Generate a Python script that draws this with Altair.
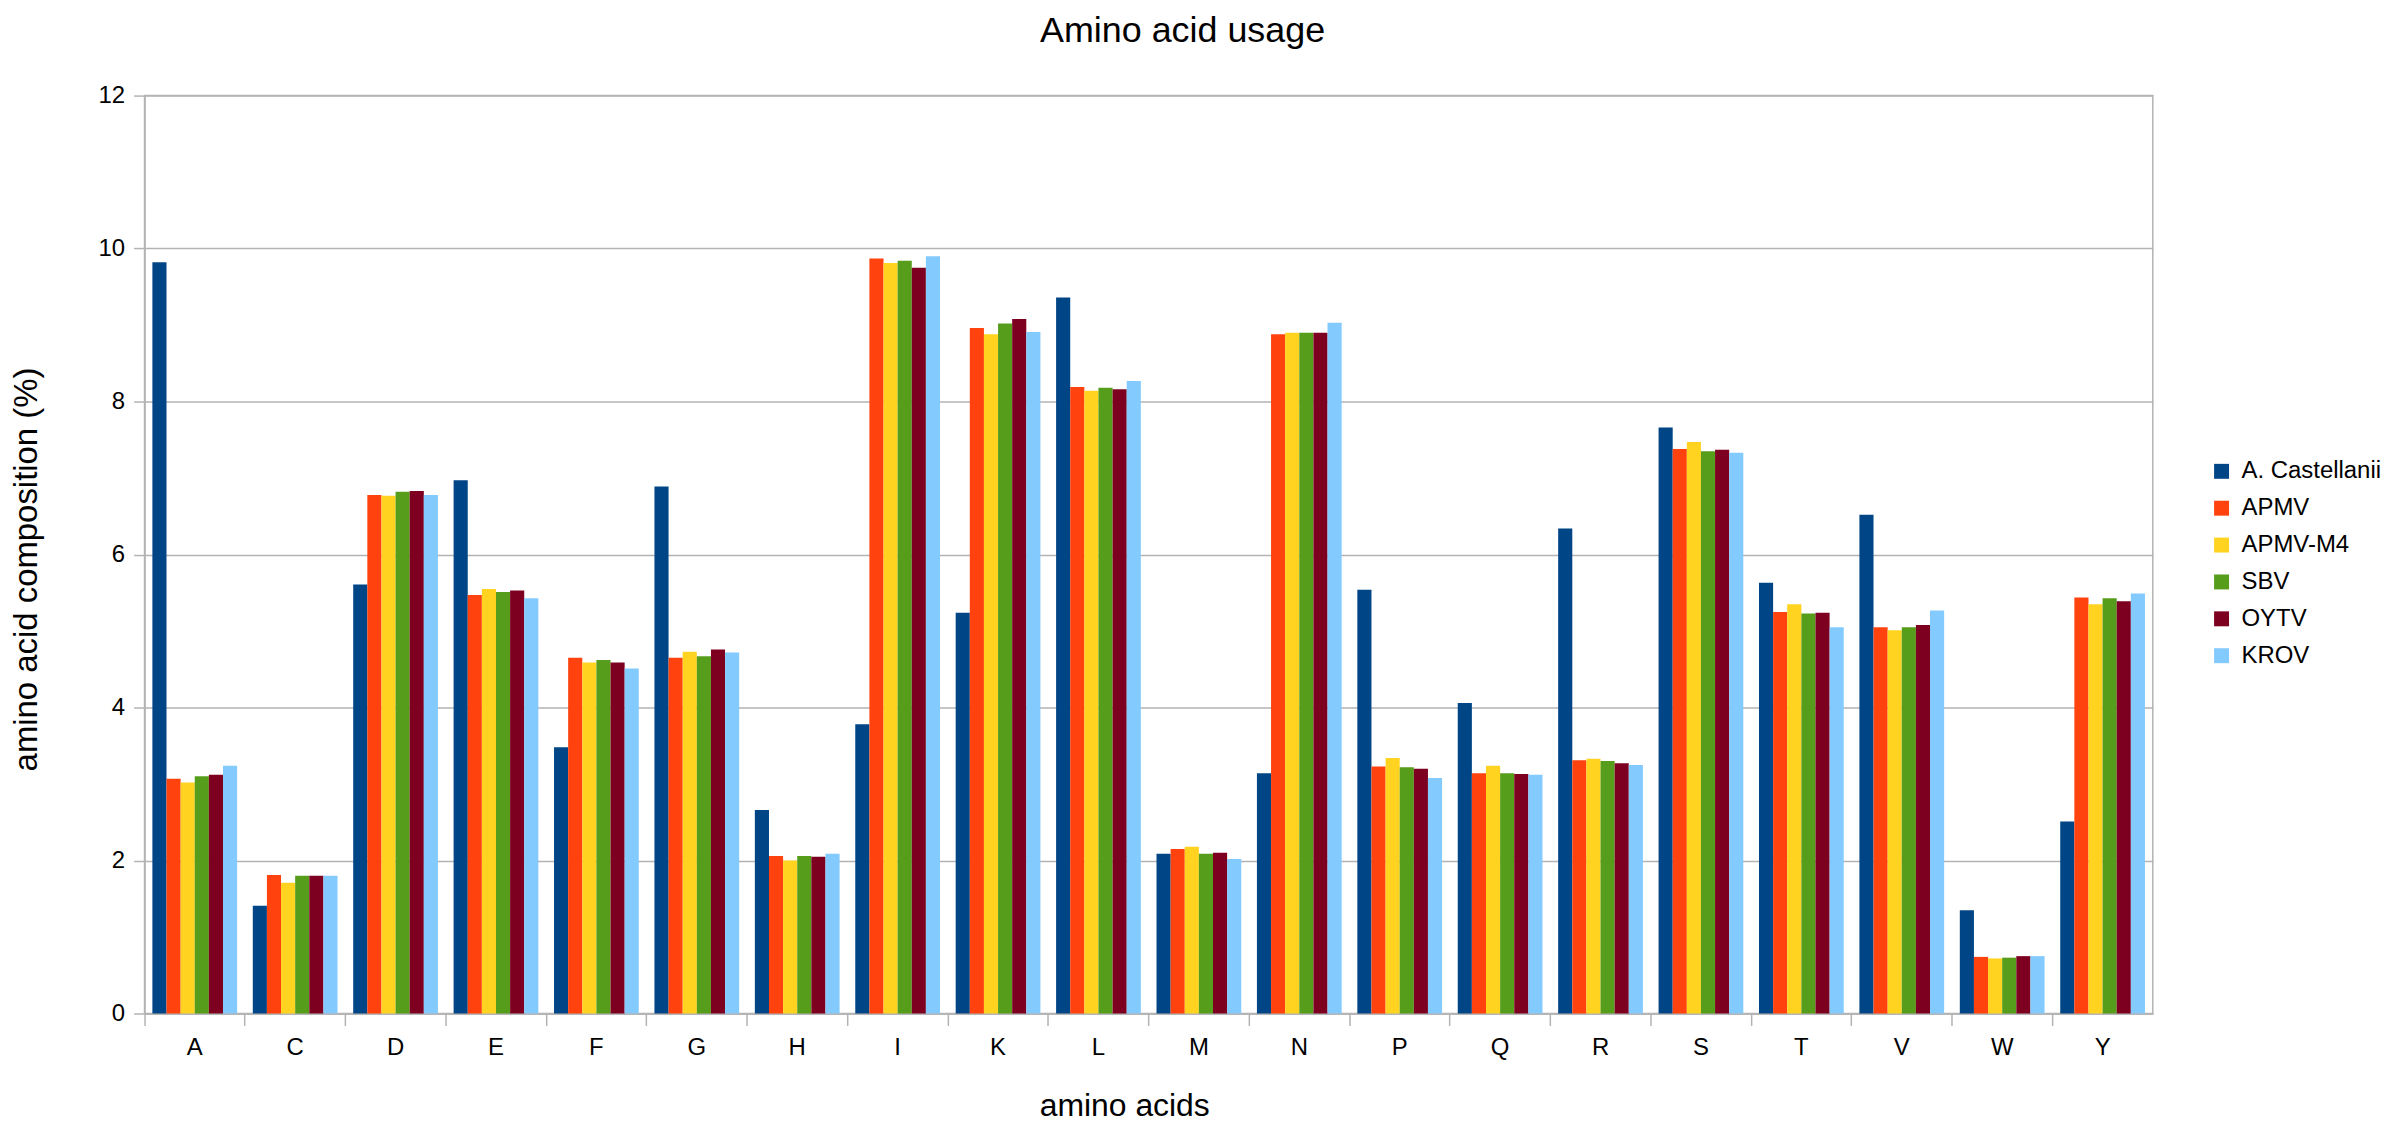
import altair as alt
import pandas as pd

aa = ["A", "C", "D", "E", "F", "G", "H", "I", "K", "L",
      "M", "N", "P", "Q", "R", "S", "T", "V", "W", "Y"]
series_names = ["A. Castellanii", "APMV", "APMV-M4", "SBV", "OYTV", "KROV"]
colors = ["#004586", "#ff420e", "#ffd320", "#579d1c", "#7e0021", "#83caff"]

castellanii = [9.82, 1.41, 5.61, 6.97, 3.48, 6.89, 2.66, 3.78, 5.24, 9.36,
               2.09, 3.14, 5.54, 4.06, 6.34, 7.66, 5.63, 6.52, 1.35, 2.51]
apmv = [3.07, 1.81, 6.78, 5.47, 4.65, 4.65, 2.06, 9.87, 8.96, 8.19,
        2.15, 8.88, 3.23, 3.14, 3.31, 7.38, 5.25, 5.05, 0.74, 5.44]
apmv_m4 = [3.02, 1.71, 6.77, 5.55, 4.59, 4.73, 2.00, 9.81, 8.88, 8.14,
           2.18, 8.90, 3.34, 3.24, 3.33, 7.47, 5.35, 5.01, 0.72, 5.35]
sbv = [3.10, 1.80, 6.82, 5.51, 4.62, 4.67, 2.06, 9.84, 9.02, 8.18,
       2.09, 8.90, 3.22, 3.14, 3.30, 7.35, 5.23, 5.05, 0.73, 5.43]
oytv = [3.12, 1.80, 6.83, 5.53, 4.59, 4.76, 2.05, 9.75, 9.08, 8.16,
        2.10, 8.90, 3.20, 3.13, 3.27, 7.37, 5.24, 5.08, 0.75, 5.39]
krov = [3.24, 1.80, 6.78, 5.43, 4.51, 4.72, 2.09, 9.90, 8.91, 8.27,
        2.02, 9.03, 3.08, 3.12, 3.25, 7.33, 5.05, 5.27, 0.75, 5.49]

y_ticks = [0, 2, 4, 6, 8, 10, 12]

rows = []
for name, vals in zip(series_names, [castellanii, apmv, apmv_m4, sbv, oytv, krov]):
    for a, v in zip(aa, vals):
        rows.append({"aa": a, "series": name, "value": v})
df = pd.DataFrame(rows)

FONT = "Liberation Sans"
GRAY = "#b3b3b3"

chart = alt.Chart(df).mark_bar().encode(
    x=alt.X(
        "aa:N", sort=aa,
        scale=alt.Scale(paddingInner=0, paddingOuter=0),
        axis=alt.Axis(
            title="amino acids", labelAngle=0, bandPosition=0,
            tickSize=12, tickColor=GRAY, tickWidth=1.5,
            domainColor=GRAY, domainWidth=1.5,
            labelPadding=29, labelBaseline="alphabetic",
            labelFontSize=24, labelFont=FONT, labelColor="black",
            titleFont=FONT, titleFontSize=32, titleFontWeight="normal",
            titleColor="black", titleX=983, titleY=102,
            titleBaseline="alphabetic", titleAlign="center", grid=False,
        ),
    ),
    xOffset=alt.XOffset(
        "series:N", sort=series_names,
        scale=alt.Scale(paddingInner=0, paddingOuter=0.555),
    ),
    y=alt.Y(
        "value:Q",
        scale=alt.Scale(domain=[0, 12], nice=False),
        axis=alt.Axis(
            values=y_ticks, title="amino acid composition (%)",
            grid=True, gridColor=GRAY, gridWidth=1.5,
            tickSize=11, tickColor=GRAY, tickWidth=1.5,
            domainColor=GRAY, domainWidth=1.5,
            labelPadding=9, labelFontSize=24, labelFont=FONT, labelColor="black",
            titleFont=FONT, titleFontSize=33, titleFontWeight="normal",
            titleColor="black", titleAngle=270, titleX=-108, titleY=475,
            titleBaseline="alphabetic", titleAlign="center",
        ),
    ),
    color=alt.Color(
        "series:N", sort=series_names,
        scale=alt.Scale(domain=series_names, range=colors),
        legend=alt.Legend(
            title=None, orient="none", legendX=2072, legendY=365,
            symbolType="square", symbolSize=225, symbolStrokeWidth=0,
            labelFontSize=24, labelFont=FONT, labelColor="black",
            labelOffset=8, rowPadding=13, padding=0,
        ),
    ),
).properties(
    width=2015,
    height=921,
    title=alt.TitleParams(
        "Amino acid usage", fontSize=36, font=FONT, fontWeight="normal",
        color="black", anchor="middle", dx=34, offset=34,
    ),
    padding={"left": 137, "top": 86, "right": 240, "bottom": 112},
    autosize=alt.AutoSizeParams(type="none"),
).configure_view(
    stroke=GRAY, strokeWidth=1.5
)

chart.save("out.html", embed_options={"renderer": "svg", "actions": False})
